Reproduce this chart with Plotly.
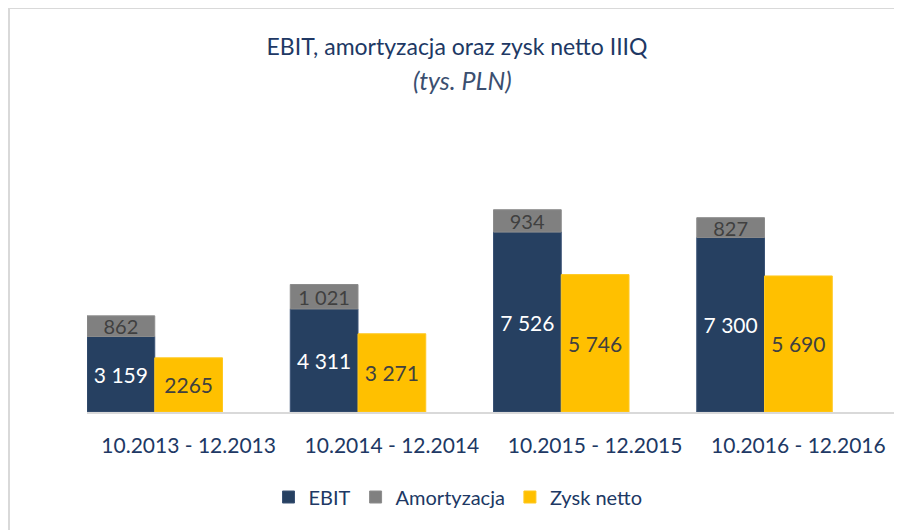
import plotly.graph_objects as go

categories = ["10.2013 - 12.2013", "10.2014 - 12.2014", "10.2015 - 12.2015", "10.2016 - 12.2016"]
ebit = [3159, 4311, 7526, 7300]
amortyzacja = [862, 1021, 934, 827]
zysk_netto = [2265, 3271, 5746, 5690]
ebit_labels = ["3 159", "4 311", "7 526", "7 300"]
amort_labels = ["862", "1 021", "934", "827"]
zysk_labels = ["2265", "3 271", "5 746", "5 690"]

FONT = "Lato"
NAVY = "#203864"
W, H = 894, 522
L, R, T, B = 79, 2, 141, 118
PW, PH = W - L - R, H - T - B

def px(x):
    return (x - L) / PW

def py(y):
    return (H - B - y) / PH

fig = go.Figure()
fig.add_trace(go.Bar(
    name="EBIT", x=categories, y=ebit, offset=-0.5, width=1/3,
    marker=dict(color="#264061", line=dict(color="#3a5275", width=1)),
    text=ebit_labels, textposition="inside", insidetextanchor="middle",
    constraintext="none", textfont=dict(color="white", size=21, family=FONT),
    hoverinfo="skip"))
fig.add_trace(go.Bar(
    name="Amortyzacja", x=categories, y=amortyzacja, base=ebit, offset=-0.5, width=1/3,
    marker=dict(color="#808080", line=dict(color="#8c8c8c", width=1)),
    text=amort_labels, textposition="inside", insidetextanchor="middle",
    constraintext="none", textfont=dict(color="#404040", size=20, family=FONT),
    hoverinfo="skip"))
fig.add_trace(go.Bar(
    name="Zysk netto", x=categories, y=zysk_netto, offset=-1/6, width=1/3,
    marker=dict(color="#FFC000", line=dict(color="#ffc820", width=1)),
    text=zysk_labels, textposition="inside", insidetextanchor="middle",
    constraintext="none", textfont=dict(color="#404040", size=21, family=FONT),
    hoverinfo="skip"))

fig.update_layout(
    width=W, height=H,
    barmode="overlay",
    paper_bgcolor="white", plot_bgcolor="white",
    margin=dict(l=L, r=R, t=T, b=B, autoexpand=False),
    font=dict(family=FONT, color=NAVY),
    title=dict(text="EBIT, amortyzacja oraz zysk netto IIIQ", x=449/W, xanchor="center",
               xref="container", y=1 - 39/H, yanchor="middle", yref="container",
               font=dict(size=23, color=NAVY, family=FONT)),
    xaxis=dict(showline=True, linecolor="#d9d9d9", linewidth=2, showgrid=False,
               ticks="", tickfont=dict(size=21, color=NAVY, family=FONT),
               ticklabelstandoff=14, range=[-0.5, 3.5]),
    yaxis=dict(range=[0, 11000], visible=False, showgrid=False),
    legend=dict(orientation="h", x=px(450), xanchor="center",
                y=py(489), yanchor="middle", itemwidth=30,
                font=dict(size=20, color=NAVY, family=FONT), traceorder="normal"),
    showlegend=True,
)
fig.add_annotation(text="<i>(tys. PLN)</i>", xref="paper", yref="paper",
                   x=px(454), y=py(72), xanchor="center", yanchor="middle",
                   showarrow=False, font=dict(size=25, color="#3b4f70", family=FONT))
fig.add_shape(type="rect", xref="paper", yref="paper",
              x0=px(1), x1=px(960), y0=py(600), y1=py(0),
              line=dict(color="#d9d9d9", width=2), fillcolor="rgba(0,0,0,0)", layer="below")

fig.write_html("out.html")
